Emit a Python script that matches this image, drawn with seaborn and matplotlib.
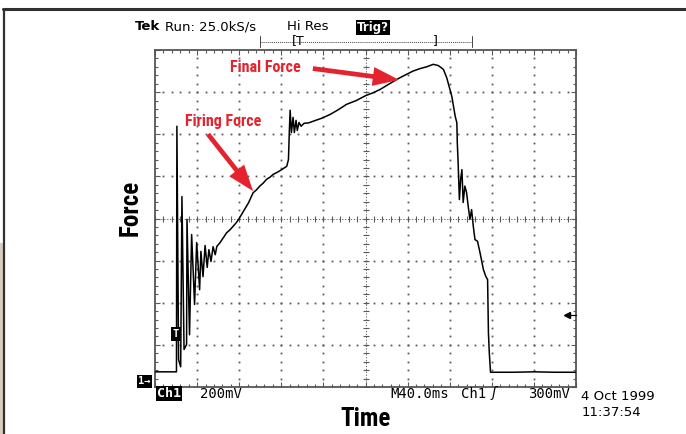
import numpy as np
import pandas as pd
import matplotlib
matplotlib.use("Agg")
import matplotlib.pyplot as plt
from matplotlib.lines import Line2D
from matplotlib.patches import Rectangle
from matplotlib.ticker import MultipleLocator
import seaborn as sns

# ---------------- data (screen divisions: x 0..10, y -4..4) ----------------
time_div = [0.00, 0.49, 0.51, 0.52, 0.56, 0.61, 0.64, 0.69, 0.75, 0.76,
            0.82, 0.87, 0.94, 0.99, 1.06, 1.09, 1.14, 1.19, 1.24, 1.28,
            1.33, 1.38, 1.43, 1.47, 1.54, 1.62, 1.70, 1.78, 1.86, 1.93,
            2.00, 2.10, 2.22, 2.33, 2.41, 2.49, 2.57, 2.65, 2.73, 2.81,
            2.91, 3.01, 3.13, 3.17, 3.19, 3.21, 3.24, 3.28, 3.31, 3.35,
            3.38, 3.42, 3.47, 3.54, 3.65, 3.76, 3.96, 4.16, 4.35, 4.55,
            4.78, 5.01, 5.17, 5.34, 5.54, 5.74, 5.93, 6.13, 6.30, 6.45,
            6.61, 6.73, 6.85, 6.93, 7.05, 7.13, 7.17, 7.18, 7.20, 7.23,
            7.26, 7.29, 7.32, 7.36, 7.40, 7.44, 7.48, 7.52, 7.56, 7.60,
            7.66, 7.72, 7.80, 7.86, 7.90, 7.92, 7.94, 7.97, 8.50, 9.00,
            9.50, 10.00]
force_div = [-3.64, -3.64, -3.64, 2.19, -3.35, -3.52, 0.52, -3.11, -2.99, -0.02,
             -2.76, -0.38, -2.04, -0.57, -1.69, -0.78, -1.38, -0.64, -1.16, -0.74,
             -1.02, -0.67, -0.86, -0.66, -0.58, -0.46, -0.34, -0.27, -0.18, -0.10,
             0.00, 0.17, 0.37, 0.61, 0.68, 0.77, 0.84, 0.93, 0.98, 1.05,
             1.10, 1.16, 1.24, 1.40, 2.04, 2.57, 2.04, 2.40, 2.04, 2.33,
             2.09, 2.28, 2.19, 2.26, 2.27, 2.31, 2.38, 2.47, 2.58, 2.71,
             2.80, 2.92, 2.98, 3.06, 3.18, 3.30, 3.40, 3.50, 3.56, 3.60,
             3.66, 3.63, 3.54, 3.34, 2.90, 2.43, 2.27, 1.81, 1.33, 0.45,
             0.93, 1.16, 0.38, 0.77, 0.62, 0.29, -0.02, 0.21, -0.18, -0.50,
             -0.54, -0.81, -1.21, -1.38, -1.45, -2.71, -3.18, -3.65, -3.65, -3.64,
             -3.65, -3.65]

trig_level_div = -2.30

header_run = "Run: 25.0kS/s"
header_mode = "Hi Res"
header_trig = "Trig?"
ch_scale = "200mV"
timebase = "M40.0ms"
trig_src = "Ch1"
trig_val = "300mV"
date_txt = "4 Oct 1999"
time_txt = "11:37:54"
ann_firing = "Firing Force"
ann_final = "Final Force"

df = pd.DataFrame({"time": time_div, "force": force_div})

# ---------------- figure ----------------
sns.set_theme(style="white")
plt.rcParams["font.family"] = ["DejaVu Sans"]
plt.rcParams["text.color"] = "black"

W, H = 686, 434
fig = plt.figure(figsize=(W / 100, H / 100), dpi=100)
fig.patch.set_facecolor("white")


def P(x, y):
    return x / W, 1 - y / H


ax = fig.add_axes([155 / W, (H - 387) / H, 421 / W, 337 / H])
ax.set_xlim(0, 10)
ax.set_ylim(-4, 4)
ax.set_facecolor("white")

grid_c = "#5a5a5a"
# dotted graticule lines
xs_minor = np.round(np.arange(0, 10.001, 0.2), 2)
ys_minor = np.round(np.arange(-4, 4.001, 0.2), 2)
gx, gy = [], []
for xv in range(1, 10):
    if xv == 5:
        continue
    for yv in ys_minor[1:-1]:
        gx.append(xv); gy.append(yv)
for yv in range(-3, 4):
    if yv == 0:
        continue
    for xv in xs_minor[1:-1]:
        gx.append(xv); gy.append(yv)
ax.plot(gx, gy, ls="none", marker="s", ms=1.3, mew=0, color=grid_c, zorder=1)

# center cross-hair with ticks
ax.axvline(5, ls=(0, (1.2, 1.8)), lw=0.7, color=grid_c, zorder=1)
ax.axhline(0, ls=(0, (1.2, 1.8)), lw=0.7, color=grid_c, zorder=1)
ax.plot(np.full(len(ys_minor), 5.0), ys_minor, ls="none", marker="_", ms=4.5,
        mew=0.8, color=grid_c, zorder=1)
ax.plot(xs_minor, np.zeros(len(xs_minor)), ls="none", marker="|", ms=4.5,
        mew=0.8, color=grid_c, zorder=1)

# border ticks
ax.xaxis.set_major_locator(MultipleLocator(1))
ax.yaxis.set_major_locator(MultipleLocator(1))
ax.xaxis.set_minor_locator(MultipleLocator(0.2))
ax.yaxis.set_minor_locator(MultipleLocator(0.2))
ax.tick_params(which="both", direction="in", top=True, right=True, bottom=True,
               left=True, labelbottom=False, labelleft=False, color=grid_c,
               width=0.8)
ax.tick_params(which="major", length=3.5)
ax.tick_params(which="minor", length=2.2)
for s in ax.spines.values():
    s.set_color("#555555")
    s.set_linewidth(1.3)
ax.grid(False)

# trace
sns.lineplot(data=df, x="time", y="force", sort=False, estimator=None,
             color="black", lw=1.1, ax=ax, zorder=3)
ax.set_xlabel("")
ax.set_ylabel("")

# trigger level marker on right
ax.plot([9.78], [trig_level_div], marker="<", ms=5, color="black", zorder=4,
        clip_on=False)
ax.plot([9.78, 10.0], [trig_level_div, trig_level_div], color="black", lw=0.9,
        zorder=4, clip_on=False)

# annotations
red = "#e5232e"
cond = ["Liberation Sans Narrow", "Roboto Condensed", "DejaVu Sans"]
arrow_kw = dict(arrowstyle="simple,head_length=0.95,head_width=0.68,tail_width=0.17",
                mutation_scale=20, color=red, lw=0, shrinkA=0, shrinkB=0)
ax.annotate("", xy=(2.33, 0.65), xytext=(1.26, 2.0), arrowprops=arrow_kw, zorder=5)
ax.annotate("", xy=(5.80, 3.29), xytext=(3.75, 3.56), arrowprops=arrow_kw, zorder=5)
fig.text(*P(223, 121), ann_firing, color=red, fontsize=11.5, fontweight="bold",
         family=cond, ha="center", va="center")
fig.text(*P(265, 67), ann_final, color=red, fontsize=11.5, fontweight="bold",
         family=cond, ha="center", va="center")

# axis titles
fig.text(*P(366, 419), "Time", fontsize=18, fontweight="bold", family=cond,
         ha="center", va="center")
fig.text(*P(131, 208), "Force", fontsize=18, fontweight="bold", family=cond,
         ha="center", va="center", rotation=90)

# header
fig.text(*P(135, 27), "Tek", fontsize=9.5, fontweight="bold", ha="left", va="center")
fig.text(*P(165, 27), header_run, fontsize=9.5, ha="left", va="center")
fig.text(*P(287, 27), header_mode, fontsize=9.5, ha="left", va="center")
fig.text(*P(357, 27.5), header_trig, fontsize=8.5, fontweight="bold", color="white",
         ha="left", va="center",
         bbox=dict(boxstyle="square,pad=0.12", fc="black", ec="none"))
# record bracket
fig.add_artist(Line2D([260 / W, 472 / W], [1 - 41.5 / H, 1 - 41.5 / H],
                      ls=(0, (1, 1)), lw=0.7, color="#444444"))
for xb in (260, 472):
    fig.add_artist(Line2D([xb / W, xb / W], [1 - 36 / H, 1 - 47 / H],
                          lw=0.7, color="#444444"))
fig.text(*P(292, 41), "[T", fontsize=9, ha="left", va="center")
fig.text(*P(433, 41), "]", fontsize=9, ha="left", va="center")

# bottom status line
mono = "DejaVu Sans Mono"
fig.text(*P(157, 393.5), "Ch1", family=mono, fontsize=9.5, fontweight="bold",
         color="white", ha="left", va="center",
         bbox=dict(boxstyle="square,pad=0.08", fc="black", ec="none"))
fig.text(*P(200, 393.5), ch_scale, family=mono, fontsize=10, ha="left", va="center")
fig.text(*P(390, 393.5), timebase, family=mono, fontsize=10, ha="left", va="center")
fig.text(*P(461, 393.5), trig_src, family=mono, fontsize=10, ha="left", va="center")
fig.text(*P(492, 393.5), "\u0283", family="DejaVu Sans", fontsize=10,
         fontstyle="italic", ha="left", va="center")
fig.text(*P(528, 393.5), trig_val, family=mono, fontsize=10, ha="left", va="center")
fig.text(*P(581, 397), date_txt, fontsize=9.5, ha="left", va="center")
fig.text(*P(582, 413), time_txt, fontsize=9.5, ha="left", va="center")

# ground marker "1->" and trigger "T" box
fig.text(*P(138, 381.5), "1\u2192", family=mono, fontsize=7.5, fontweight="bold",
         color="white", ha="left", va="center",
         bbox=dict(boxstyle="square,pad=0.1", fc="black", ec="none"))
fig.text(*P(176, 334), "T", family=mono, fontsize=7.5, fontweight="bold",
         color="white", ha="center", va="center",
         bbox=dict(boxstyle="square,pad=0.15", fc="black", ec="none"))

# outer frame
fig.add_artist(Line2D([3 / W, 1], [1 - 9 / H, 1 - 9 / H], lw=2.2, color="#303030"))
fig.add_artist(Line2D([4 / W, 4 / W], [0, 1 - 9 / H], lw=1.6, color="#303030"))
fig.add_artist(Rectangle((0, 0), 3 / W, (H - 243) / H, transform=fig.transFigure,
                         fc="#d8cebd", ec="none"))

fig.savefig("out.png", dpi=100, facecolor="white")
